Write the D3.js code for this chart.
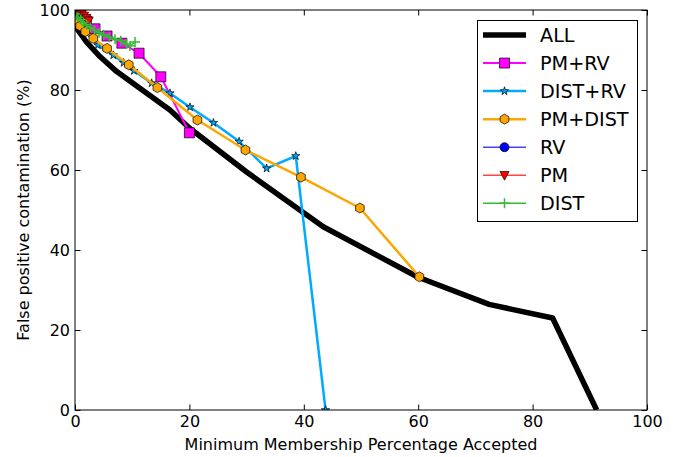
<!DOCTYPE html>
<html><head><meta charset="utf-8">
<script src="https://cdn.jsdelivr.net/npm/d3@7"></script>
<style>body{margin:0;background:#fff;} svg{display:block;font-family:"DejaVu Sans",sans-serif;}</style>
</head><body><svg id="c" width="681" height="457"></svg>
<script>
const xTicks = [0, 20, 40, 60, 80, 100];
const yTicks = [0, 20, 40, 60, 80, 100];
const seriesNames = ["ALL", "PM+RV", "DIST+RV", "PM+DIST", "RV", "PM", "DIST"];
const allData = [[0,96],[1,94],[2,92],[4.4,88.3],[7.3,84.6],[11.4,80.4],[16.6,75],[20,70.5],[30,59.5],[43.4,45.8],[60,33.2],[72.4,26.4],[83.5,23],[91.2,0]];
const pmrvData = [[0,99.5],[1,98.3],[2,97.2],[3.5,95.3],[5.6,93.5],[8.2,91.7],[11.2,89.2],[15,83.3],[20,69.3]];
const distrvData = [[0,98],[1,96.2],[2,94.3],[4,91.2],[6.7,88.7],[8.5,86.8],[10.3,84.8],[13.4,81.7],[16.6,79.2],[20.1,75.7],[24.2,71.8],[28.7,67.1],[33.5,60.4],[38.6,63.5],[43.8,0]];
const pmdistData = [[0,98.5],[0.5,97.2],[0.9,96],[1.8,94.6],[3.2,92.9],[5.6,90.4],[9.4,86.3],[14.4,80.6],[21.4,72.5],[29.8,65],[39.5,58.2],[49.8,50.5],[60.2,33.3]];
const rvData = [[0,99.6],[0.4,99.2],[0.8,98.8]];
const pmData = [[0.3,100],[0.8,99.5],[1.2,99],[1.6,98.5],[2,97.9],[2.4,97.3]];
const distData = [[0,99],[0.5,98.2],[1,97.6],[1.5,96.9],[2,96.3],[2.7,95.6],[3.4,95],[4.2,94.3],[5,93.8],[6,93.2],[7,92.7],[8,92.3],[9,91.5],[9.6,91],[10.5,92]];

const L = 75, R = 647, T = 10, B = 410;
const svg = d3.select("#c");
const x = d3.scaleLinear().domain([0, 100]).range([L, R]);
const y = d3.scaleLinear().domain([0, 100]).range([B, T]);

const hexPath = (s) => { let p = ""; for (let i = 0; i < 6; i++) { const a = Math.PI/2 + i*Math.PI/3; p += (i?"L":"M") + (s*Math.cos(a)).toFixed(2) + "," + (s*Math.sin(a)).toFixed(2); } return p + "Z"; };
const squarePath = (s) => `M${-s},${-s}H${s}V${s}H${-s}Z`;
const circlePath = (s) => `M${s},0A${s},${s} 0 1,1 ${-s},0A${s},${s} 0 1,1 ${s},0Z`;
const triDown = (s) => `M${-s},${-s*0.85}L${s},${-s*0.85}L0,${s*1.1}Z`;
const starPath = (s) => d3.symbol(d3.symbolStar, s*s)();
const plusPath = (s) => `M${-s},0H${s}M0,${-s}V${s}`;

const series = [
  {name: seriesNames[0], data: allData, color: "#000", width: 5.5, marker: null},
  {name: seriesNames[1], data: pmrvData, color: "#ff00ff", width: 2, marker: squarePath, ms: 5, fill: "#ff00ff"},
  {name: seriesNames[2], data: distrvData, color: "#00aaff", width: 2.5, marker: starPath, ms: 4.6, fill: "#00aaff"},
  {name: seriesNames[3], data: pmdistData, color: "#ffa500", width: 2.5, marker: hexPath, ms: 5, fill: "#ffa500"},
  {name: seriesNames[4], data: rvData, color: "#4444ff", width: 1.5, marker: circlePath, ms: 4.5, fill: "#0000ff"},
  {name: seriesNames[5], data: pmData, color: "#ff4444", width: 1.5, marker: triDown, ms: 4.5, fill: "#ff0000"},
  {name: seriesNames[6], data: distData, color: "#33bb33", width: 1.5, marker: plusPath, ms: 5, fill: "none", plus: true}
];

svg.append("defs").append("clipPath").attr("id", "clip").append("rect")
  .attr("x", L).attr("y", T).attr("width", R - L).attr("height", B - T);

const plot = svg.append("g").attr("clip-path", "url(#clip)");
const line = d3.line().x(d => x(d[0])).y(d => y(d[1]));
series.forEach(s => {
  plot.append("path").datum(s.data).attr("d", line).attr("fill", "none")
    .attr("stroke", s.color).attr("stroke-width", s.width).attr("stroke-linejoin", "round");
  if (s.marker) {
    plot.selectAll(null).data(s.data).enter().append("path")
      .attr("transform", d => `translate(${x(d[0])},${y(d[1])})`)
      .attr("d", s.marker(s.ms))
      .attr("fill", s.fill)
      .attr("stroke", s.plus ? s.color : "#000")
      .attr("stroke-width", s.plus ? 1.5 : 0.7);
  }
});

const tickLen = 5.5;
const ax = svg.append("g");
const xAxB = d3.axisBottom(x).tickValues(xTicks).tickSize(-tickLen).tickPadding(6);
const xAxT = d3.axisTop(x).tickValues(xTicks).tickSize(-tickLen).tickFormat("");
const yAxL = d3.axisLeft(y).tickValues(yTicks).tickSize(-tickLen).tickPadding(5);
const yAxR = d3.axisRight(y).tickValues(yTicks).tickSize(-tickLen).tickFormat("");
[[xAxB, `translate(0,${B})`], [xAxT, `translate(0,${T})`], [yAxL, `translate(${L},0)`], [yAxR, `translate(${R},0)`]].forEach(([a, t]) => {
  const g = ax.append("g").attr("transform", t).call(a);
  g.select(".domain").remove();
  g.selectAll("line").attr("stroke", "#000").attr("stroke-width", 1);
  g.selectAll("text").attr("font-size", 16).attr("fill", "#000").attr("font-family", "DejaVu Sans");
});
svg.append("rect").attr("x", L).attr("y", T).attr("width", R - L).attr("height", B - T)
  .attr("fill", "none").attr("stroke", "#000").attr("stroke-width", 1);

svg.append("text").attr("x", (L + R) / 2).attr("y", 450).attr("text-anchor", "middle")
  .attr("font-size", 16).text("Minimum Membership Percentage Accepted");
svg.append("text").attr("transform", `translate(29,${(T + B) / 2}) rotate(-90)`).attr("text-anchor", "middle")
  .attr("font-size", 16).text("False positive contamination (%)");

const lg = svg.append("g");
lg.append("rect").attr("x", 477.5).attr("y", 20.5).attr("width", 160).attr("height", 201)
  .attr("fill", "#fff").attr("stroke", "#000").attr("stroke-width", 1);
series.forEach((s, i) => {
  const yy = 35 + i * 28.05;
  lg.append("line").attr("x1", 483).attr("x2", 526).attr("y1", yy).attr("y2", yy)
    .attr("stroke", s.color).attr("stroke-width", s.width);
  if (s.marker) {
    lg.append("path").attr("transform", `translate(504.5,${yy})`).attr("d", s.marker(s.ms))
      .attr("fill", s.fill).attr("stroke", s.plus ? s.color : "#000").attr("stroke-width", s.plus ? 1.5 : 0.7);
  }
  lg.append("text").attr("x", 540).attr("y", yy + 7).attr("font-size", 19.2).text(s.name);
});
</script></body></html>
